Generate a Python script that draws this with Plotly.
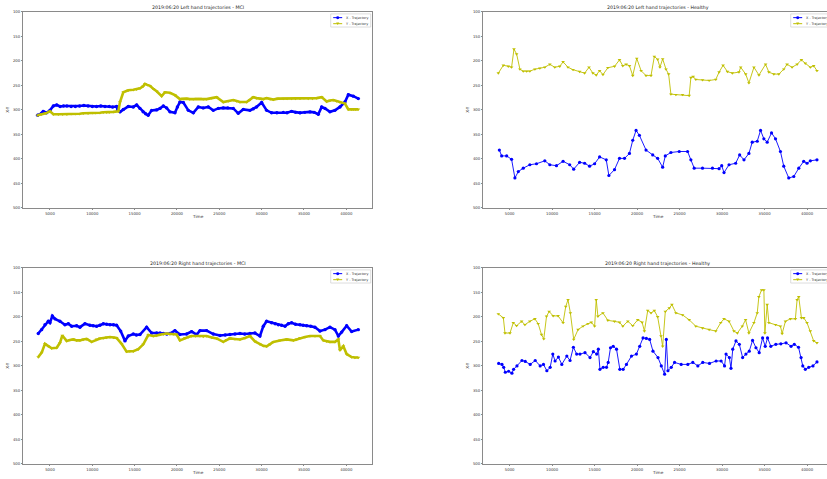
import plotly.graph_objects as go

W, H = 827, 479

# ---------------- data (time in ms, position in px) ----------------
lh_mci_x_time = [3540,4000,4200,4600,5000,5400,5800,6200,6600,7000,7500,8000,8500,9000,9500,10000,10500,11000,11500,12000,12400,12870,13000,13270,13660,14250,14840,15240,15630,16000,16300,16600,17010,17600,18000,18390,18780,19170,19760,20050,20350,20750,21340,21930,22520,23100,23700,24290,24880,25470,26000,26650,27240,27830,28620,29000,29400,30000,30590,31180,31800,32560,33000,33540,34000,34530,35100,35710,36200,36690,37090,37480,38070,38660,39250,39840,40240,40830,41420]
lh_mci_x_vals = [311,307,303,306,301,292,290,293,292,292,293,293,292,291,292,293,293,292,293,293,294,293,301,304,299,293,294,290,297,304,308,311,301,300,297,292,296,304,306,294,284,285,301,306,294,296,294,301,297,296,296,297,307,299,301,298,294,285,301,306,306,305,306,303,305,306,305,304,305,309,294,297,304,301,294,284,269,272,277]

lh_mci_y_time = [3540,4000,4500,5000,5400,6000,6500,7000,7500,8000,8500,8940,9500,10000,10400,10900,11300,11700,12000,12480,13070,13270,13660,14250,14840,15230,15630,16000,16220,16500,16810,17200,17600,18190,18580,19170,19760,20350,20700,21140,21500,21930,22300,22720,23100,23500,24100,24680,25470,26060,26650,27050,27440,28230,28600,29010,29400,29800,30200,30590,31000,31380,31900,32560,33000,33540,34000,34530,35000,35500,36000,36500,37090,37680,38070,38460,38850,39250,39840,40240,40600,40830,41100,41420]
lh_mci_y_vals = [311,309,307,303,309,309,309,309,308,308,308,307,307,306,306,306,305,305,305,304,303,284,264,260,259,258,256,252,247,249,251,257,262,272,264,265,270,278,277,277,278,278,277,277,278,278,276,274,284,282,280,282,284,284,280,274,276,277,278,276,278,279,277,277,277,277,277,277,276,277,277,276,274,283,281,280,282,284,287,299,299,299,299,299]

lh_hc_x_time = [3790,4060,4650,5230,5620,6020,6600,7380,8160,9140,9730,10510,11290,12070,12540,13240,13830,14410,15000,15590,16370,16680,17340,17930,18520,19100,19490,19880,20270,21050,21840,22420,23010,23320,23980,24960,25940,26330,26720,27700,28870,29650,29960,30230,30820,31600,32070,32580,33160,33550,34140,34530,34920,35310,35820,36290,36870,37260,37850,38440,39030,39610,40000,40390,41170]
lh_hc_x_vals = [382,394,394,401,439,426,419,412,410,404,412,414,405,412,421,407,409,415,410,396,402,434,422,399,399,389,362,342,352,382,392,399,417,394,387,385,385,402,419,419,419,420,414,428,412,409,392,402,389,366,364,342,359,366,347,359,385,415,439,436,419,405,409,404,402]

lh_hc_y_time = [3670,4260,4840,5230,5510,5820,6210,6600,7000,7380,7970,8550,9140,9730,10310,10900,11290,11870,12460,13240,13830,14340,14800,15190,15590,15980,16560,17350,17930,18320,18710,19100,19490,19960,20470,21050,21640,22030,22420,22690,23010,23400,23710,23980,24570,25350,26130,26330,26600,26910,27700,28480,29260,29650,30120,30630,31210,31990,32190,32780,33160,33750,34340,35120,35510,36090,36680,37260,37650,38240,38830,39340,39800,40390,40780,41170]
lh_hc_y_vals = [225,209,211,213,176,186,217,221,221,221,217,215,213,207,213,211,202,213,218,222,225,213,225,229,220,228,214,211,198,210,207,210,230,195,220,230,230,191,197,213,196,217,227,268,269,269,271,234,232,238,239,240,238,223,209,222,225,223,213,227,245,213,229,207,223,227,227,217,207,213,207,198,205,213,210,220]

rh_mci_x_time = [3620,4020,4410,4800,5000,5280,5590,6180,6770,7170,7560,8150,8540,9130,9720,10100,10510,10900,11300,11700,12090,12500,12870,13350,13860,14250,14840,15200,15630,16420,17010,17600,18000,18390,18800,19170,19760,20350,21140,21730,22320,22720,23500,24290,25080,25700,26260,26850,27440,28000,28620,29210,29800,30200,30590,31180,31600,31970,32350,32760,33150,33540,34000,34530,34900,35320,35800,36300,36890,37480,38070,38660,39060,39450,40040,40630,41420]
rh_mci_x_vals = [234,226,216,209,212,198,204,209,216,214,219,218,221,214,217,218,219,217,214,215,216,216,217,229,249,239,235,237,236,221,233,233,233,234,235,234,228,236,235,230,236,228,228,235,238,237,236,235,234,235,234,233,239,219,209,212,214,216,217,219,214,212,215,216,217,218,219,221,229,226,221,226,239,231,218,230,226]

rh_mci_y_time = [3620,4020,4410,4800,5200,5790,6180,6460,6970,7360,7760,8150,8540,8940,9330,9920,10510,10900,11300,11700,12090,12500,12870,13460,14050,14440,14840,15430,16020,16610,17200,17600,17990,18400,18780,19170,19570,19960,20350,20940,21340,21730,22200,22720,23100,23500,24100,24680,25470,25860,26260,26850,27440,28030,28620,29210,29800,30200,30590,31000,31380,32170,32960,33750,34130,34530,35120,35710,36300,36890,37280,37680,38070,38660,39060,39250,39650,40040,40630,41020,41420]
rh_mci_y_vals = [282,273,255,260,264,263,253,238,249,247,246,248,248,246,245,251,246,244,243,242,241,242,243,255,271,270,270,266,256,237,239,238,236,235,234,235,235,236,248,243,241,239,239,239,240,239,242,244,251,247,244,245,246,243,239,250,256,259,260,256,251,248,246,248,246,243,241,239,239,239,248,250,251,251,246,268,260,276,282,283,283]

rh_hc_x_time = [3710,4100,4300,4490,4880,5270,5470,5860,6450,6840,7420,8010,8590,8980,9380,9770,10080,10350,10740,11140,11730,12110,12500,12890,13280,13870,14460,14850,15240,15440,15630,16010,16400,16600,16870,17190,17580,17970,18360,18750,19340,19920,20310,20700,21090,21480,21870,22460,22850,23240,23440,23630,24020,24410,25190,25970,26560,27150,27730,28520,29300,29890,30290,30470,30860,31050,31260,31640,32030,32420,32810,33200,33590,33990,34370,34770,35080,35350,35740,36330,36920,37530,38120,38500,39000,39300,39500,39800,40200,40700,41170]
rh_hc_x_vals = [295,297,303,313,311,315,307,300,289,291,297,289,300,297,310,303,276,290,282,297,280,289,262,276,276,273,283,271,276,266,307,303,303,293,263,260,266,307,307,297,280,276,260,243,244,246,270,283,300,317,246,310,303,293,297,297,293,300,293,295,290,290,300,276,283,305,266,249,256,283,276,270,248,263,273,243,260,243,260,256,255,253,260,256,262,283,300,307,303,300,292]

rh_hc_y_time = [3670,4260,4450,5040,5430,5820,6410,6800,7380,7970,8360,8750,9020,9340,9650,10120,10700,11290,11600,11870,12150,12540,13050,13630,14220,14610,15000,15190,15390,15980,16560,17340,17930,18320,18910,19490,20080,20590,20860,21250,21640,22030,22420,22810,23010,23320,23790,24100,24570,25350,26130,26910,27700,28480,29260,29840,30230,30820,31400,31800,32380,32770,33160,33750,34140,34330,34650,34920,35040,35310,35510,36290,36870,37070,37460,38050,38630,38830,39020,39340,39610,40000,40390,40780,41170]
rh_hc_y_vals = [194,202,233,233,212,218,209,216,209,204,214,236,245,199,189,198,198,212,179,165,192,246,226,219,214,211,219,165,199,192,207,209,211,219,209,218,206,211,229,187,192,187,200,239,260,189,182,175,192,196,206,219,223,226,229,212,204,209,229,233,219,206,233,212,192,159,145,145,233,175,212,216,219,234,209,204,204,165,159,202,202,212,229,249,253]

panel_titles = ["2019:06:20 Left hand trajectories - MCI",
                "2019:06:20 Left hand trajectories - Healthy",
                "2019:06:20 Right hand trajectories - MCI",
                "2019:06:20 Right hand trajectories - Healthy"]
series_names = ["X - Trajectory", "Y - Trajectory"]
x_ticks = [5000, 10000, 15000, 20000, 25000, 30000, 35000, 40000]
y_ticks = [100, 150, 200, 250, 300, 350, 400, 450, 500]

# ---------------- style / layout ----------------
BLUE = "#0000ff"
YEL = "#bfbf00"
FRAME = "#8a8a8a"
TXT = "#333333"
FONT = "DejaVu Sans"


def fx(x):
    return x / W


def fy(y):
    return 1 - y / H


panels = [
    dict(l=23.3, r=372.3, t=9.0, b=207.0, rng=[1850, 43070], clip=False, dense=True,
         data=[(lh_mci_x_time, lh_mci_x_vals), (lh_mci_y_time, lh_mci_y_vals)]),
    dict(l=483.3, r=832.3, t=9.0, b=207.0, rng=[1900, 42350], clip=True, dense=False,
         data=[(lh_hc_x_time, lh_hc_x_vals), (lh_hc_y_time, lh_hc_y_vals)]),
    dict(l=23.3, r=372.3, t=267.7, b=465.7, rng=[1850, 43070], clip=False, dense=True,
         data=[(rh_mci_x_time, rh_mci_x_vals), (rh_mci_y_time, rh_mci_y_vals)]),
    dict(l=483.3, r=832.3, t=267.7, b=465.7, rng=[1900, 42350], clip=True, dense=False,
         data=[(rh_hc_x_time, rh_hc_x_vals), (rh_hc_y_time, rh_hc_y_vals)]),
]

fig = go.Figure()
shapes = []
annotations = []
layout_axes = {}

for i, p in enumerate(panels):
    k = "" if i == 0 else str(i + 1)
    xr = min(p["r"], W)
    (tx, vx), (ty, vy) = p["data"]
    lw = 2.6 if p["dense"] else 0.9
    ms = 3.4 if p["dense"] else 3.2
    fig.add_trace(go.Scatter(
        x=tx, y=vx, mode="lines+markers", name=series_names[0],
        line=dict(color=BLUE, width=lw),
        marker=dict(symbol="circle", size=ms, color=BLUE, line=dict(width=0)),
        xaxis="x" + k, yaxis="y" + k, showlegend=False))
    fig.add_trace(go.Scatter(
        x=ty, y=vy, mode="lines+markers", name=series_names[1],
        line=dict(color=YEL, width=lw),
        marker=dict(symbol="triangle-down", size=ms, color=YEL, line=dict(width=0)),
        xaxis="x" + k, yaxis="y" + k, showlegend=False))

    layout_axes["xaxis" + k] = dict(
        domain=[fx(p["l"]), fx(xr)], range=p["rng"], anchor="y" + k,
        showline=True, linecolor=FRAME, linewidth=0.8, mirror=True,
        showgrid=False, zeroline=False, tickvals=x_ticks, tickformat="d",
        ticks="outside", ticklen=1.5, tickwidth=0.6, tickcolor=FRAME,
        tickfont=dict(family=FONT, size=3.8, color=TXT))
    layout_axes["yaxis" + k] = dict(
        domain=[fy(p["b"]), fy(p["t"])], range=[500, 100], anchor="x" + k,
        showline=True, linecolor=FRAME, linewidth=0.8, mirror=(not p["clip"]),
        showgrid=False, zeroline=False, tickvals=y_ticks, tickformat="d",
        ticks="outside", ticklen=1.5, tickwidth=0.6, tickcolor=FRAME,
        tickfont=dict(family=FONT, size=3.8, color=TXT))

    # axis labels
    annotations.append(dict(
        text="Time", x=fx((p["l"] + p["r"]) / 2), y=fy(p["b"] + 8.6),
        xref="paper", yref="paper", showarrow=False, xanchor="center", yanchor="middle",
        font=dict(family=FONT, size=4.2, color=TXT)))
    annotations.append(dict(
        text="X-Y", x=fx(p["l"] - 15.3), y=fy((p["t"] + p["b"]) / 2), textangle=-90,
        xref="paper", yref="paper", showarrow=False, xanchor="center", yanchor="middle",
        font=dict(family=FONT, size=4.2, color=TXT)))

    # title
    annotations.append(dict(
        text=panel_titles[i], x=fx((p["l"] + p["r"]) / 2), y=fy(p["t"] - 4.2),
        xref="paper", yref="paper", showarrow=False, xanchor="center", yanchor="middle",
        font=dict(family=FONT, size=4.7, color="#222222")))

    # legend box (matplotlib style, upper right)
    R = p["r"] - 1.6
    L = R - 40
    T = p["t"] + 2
    B = T + 13.3
    shapes.append(dict(type="rect", xref="paper", yref="paper",
                       x0=fx(L), x1=fx(R), y0=fy(B), y1=fy(T),
                       line=dict(color="#d0d0d0", width=0.7), fillcolor="rgba(255,255,255,0.85)"))
    rows = [T + 3.8, T + 9.9]
    for j, (cy, col) in enumerate(zip(rows, [BLUE, YEL])):
        shapes.append(dict(type="line", xref="paper", yref="paper",
                           x0=fx(L + 2.5), x1=fx(L + 11.5), y0=fy(cy), y1=fy(cy),
                           line=dict(color=col, width=1)))
        cx = L + 7
        if j == 0:
            shapes.append(dict(type="circle", xref="paper", yref="paper",
                               x0=fx(cx - 1.5), x1=fx(cx + 1.5), y0=fy(cy + 1.5), y1=fy(cy - 1.5),
                               fillcolor=col, line=dict(width=0)))
        else:
            path = "M {:.5f},{:.5f} L {:.5f},{:.5f} L {:.5f},{:.5f} Z".format(
                fx(cx - 1.6), fy(cy - 1.2), fx(cx + 1.6), fy(cy - 1.2), fx(cx), fy(cy + 1.4))
            shapes.append(dict(type="path", xref="paper", yref="paper", path=path,
                               fillcolor=col, line=dict(width=0)))
        annotations.append(dict(
            text=series_names[j], x=fx(L + 13.5), y=fy(cy), xref="paper", yref="paper",
            showarrow=False, xanchor="left", yanchor="middle",
            font=dict(family=FONT, size=3.4, color=TXT)))

fig.update_layout(
    width=W, height=H, margin=dict(l=0, r=0, t=0, b=0, pad=0),
    paper_bgcolor="white", plot_bgcolor="white",
    showlegend=False, shapes=shapes, annotations=annotations,
    font=dict(family=FONT, color=TXT),
    **layout_axes)

# remove the browser's default 8px body margin so the figure fills the window
fig.write_html("out.html",
               config={"displayModeBar": False},
               post_script="document.body.style.margin='0';document.body.style.overflow='hidden';")
